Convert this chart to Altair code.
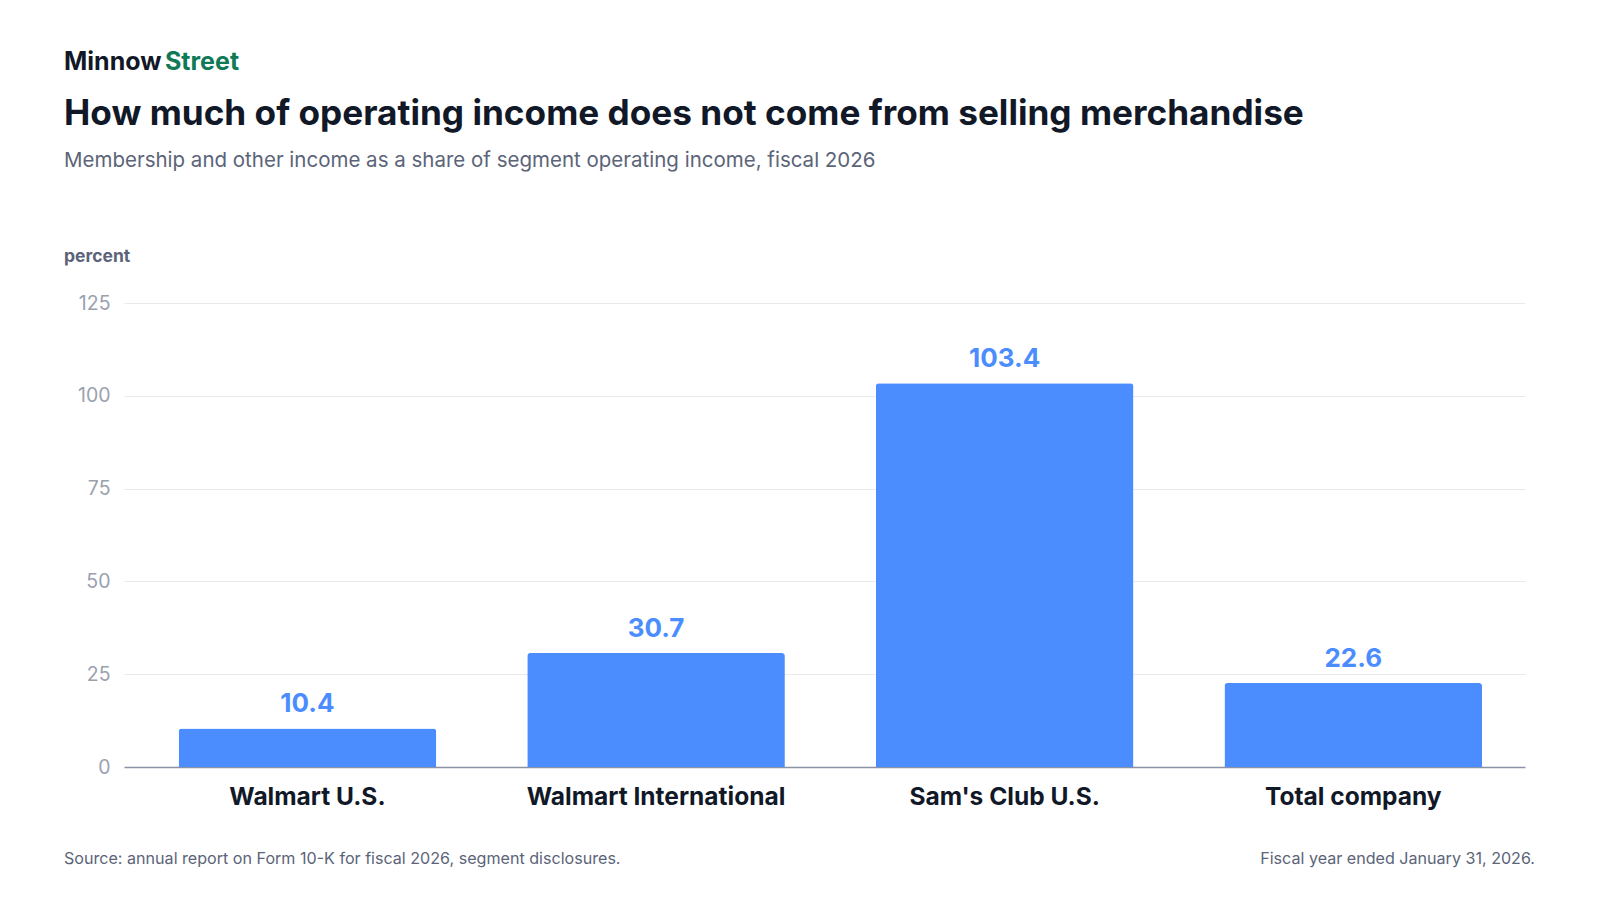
import altair as alt
import pandas as pd

categories = ["Walmart U.S.", "Walmart International", "Sam's Club U.S.", "Total company"]
values = [10.4, 30.7, 103.4, 22.6]
labels = ["10.4", "30.7", "103.4", "22.6"]

df = pd.DataFrame({"cat": categories, "val": values, "lab": labels})
F = "Inter"
W, H = 1401, 464

base = alt.Chart(df)
x = alt.X("cat:N", sort=categories, title=None,
          scale=alt.Scale(paddingInner=0.261, paddingOuter=0.14, align=0.56),
          axis=alt.Axis(labelAngle=0, labelFont=F, labelFontSize=24.5, labelFontWeight="bold",
                        labelColor="#111827", labelPadding=18, ticks=False, labelLimit=0,
                        domainColor="#8a93a6", domainWidth=1.5))
y = alt.Y("val:Q", title=None, scale=alt.Scale(domain=[0, 125], nice=False),
          axis=alt.Axis(values=[0, 25, 50, 75, 100, 125], labelFont=F, labelFontSize=19.5,
                        labelColor="#9aa1ae", labelPadding=14, ticks=False, domain=False,
                        gridColor="#e8eaee"))

bars = base.mark_bar(color="#4b8dff", cornerRadiusTopLeft=3, cornerRadiusTopRight=3).encode(x=x, y=y)
txt = base.mark_text(font=F, fontSize=26, fontWeight="bold", color="#4b8dff", dy=-24).encode(
    x=alt.X("cat:N", sort=categories), y="val:Q", text="lab:N")

def t(s, xx, yy, size, color, weight="normal", align="left"):
    return alt.Chart(pd.DataFrame({"t": [s]})).mark_text(
        font=F, fontSize=size, color=color, fontWeight=weight, align=align, baseline="middle"
    ).encode(x=alt.value(xx), y=alt.value(yy), text="t:N")

extras = [
    t("Minnow", -60, -241, 25, "#111827", "bold"),
    t("Street", 41, -241, 25, "#0f7a55", "bold"),
    t("How much of operating income does not come from selling merchandise", -60, -189, 35.2, "#111827", "bold"),
    t("Membership and other income as a share of segment operating income, fiscal 2026", -60, -142, 20.5, "#5b6478"),
    t("percent", -60, -46, 17.5, "#5b6478", "bold"),
    t("Source: annual report on Form 10-K for fiscal 2026, segment disclosures.", -60, 556, 16.1, "#5b6478"),
    t("Fiscal year ended January 31, 2026.", 1411, 556, 16.1, "#5b6478", align="right"),
]

chart = alt.layer(bars, txt, *extras).properties(
    width=W, height=H, background="white",
    autosize=alt.AutoSizeParams(type="none"),
    padding={"left": 116, "top": 295, "right": 64, "bottom": 110},
).configure_view(stroke=None)

chart.save("out.html", embed_options={"renderer": "svg", "actions": False})
